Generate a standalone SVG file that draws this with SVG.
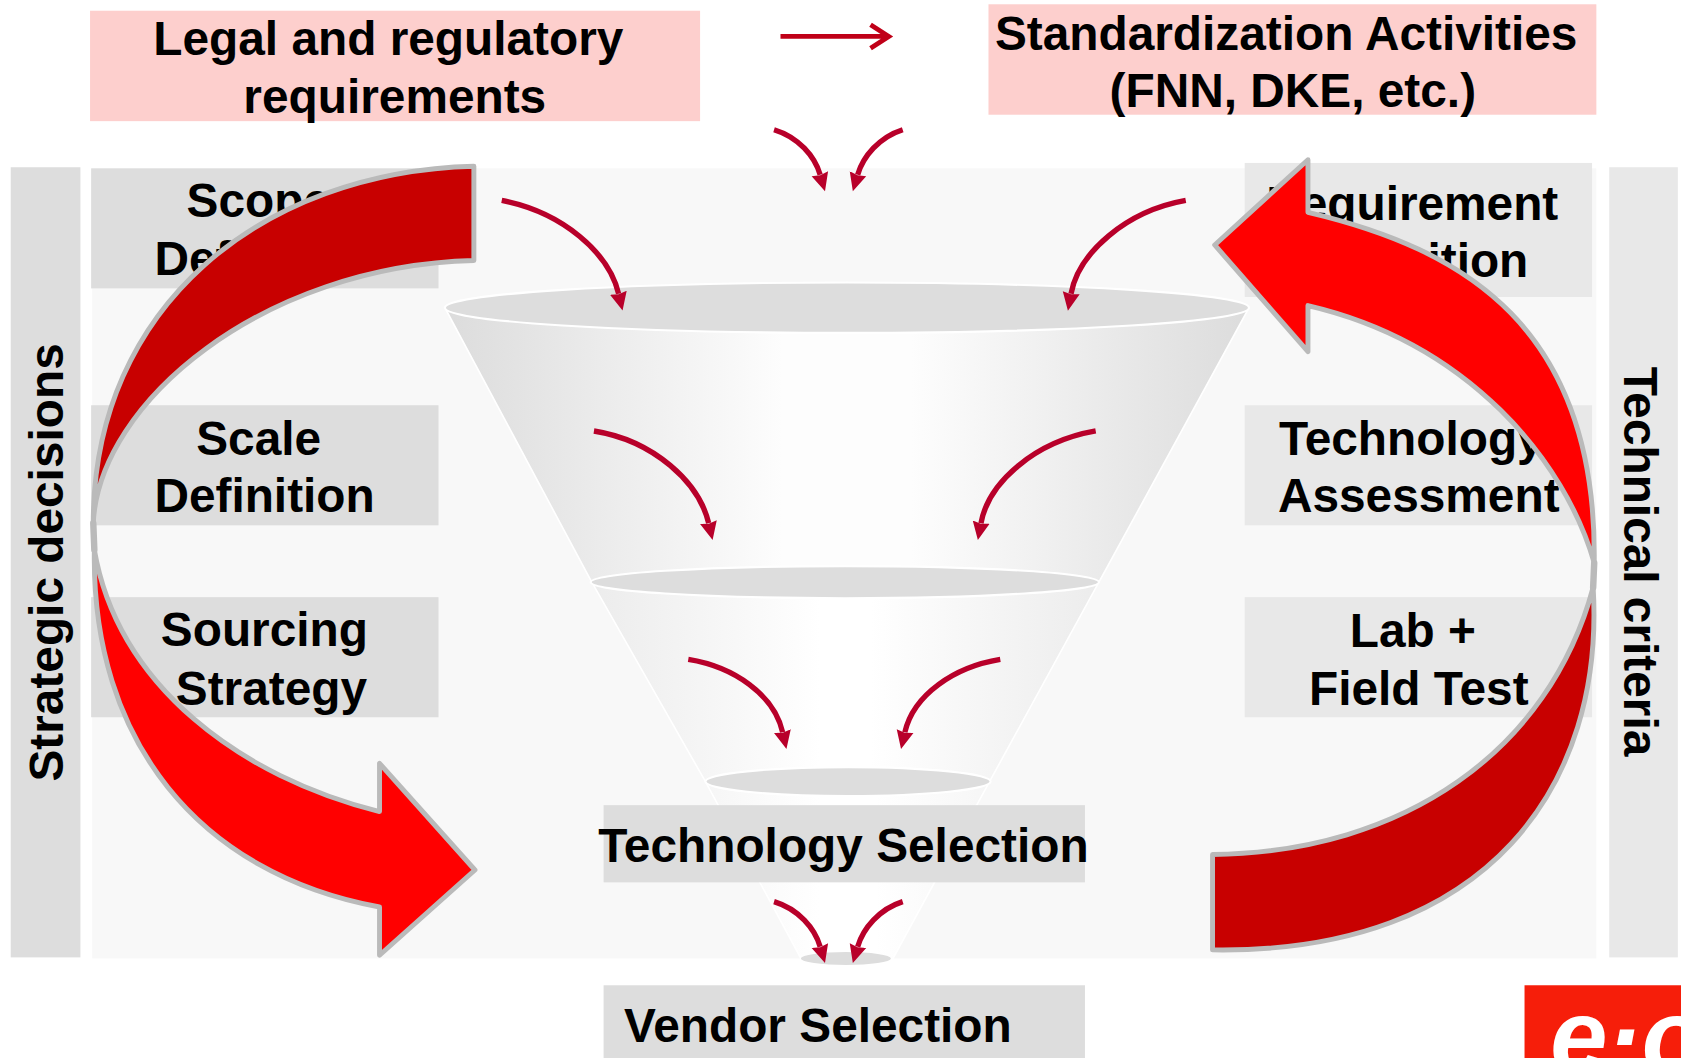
<svg xmlns="http://www.w3.org/2000/svg" width="1681" height="1058" viewBox="0 0 1681 1058">
<style>
text{font-family:"Liberation Sans",Arial,sans-serif;font-weight:700;font-size:44.6px;fill:#000}
.lg{fill:#ddd}.lr{fill:#e8e8e8}.pk{fill:#fdcfcd}
.el{fill:#ddd;stroke:#fff;stroke-width:2}
.c{fill:none;stroke:#b8002a;stroke-width:5;marker-end:url(#ah)}
.bd{stroke:#bababa;stroke-width:4.6;stroke-linejoin:round}
.dk{fill:#c80000}.br{fill:#f00}
.cone{stroke:#fff;stroke-width:1.5}
</style>
<defs>
<marker id="ah" markerUnits="userSpaceOnUse" markerWidth="20" markerHeight="20" refX="1" refY="9" orient="auto"><path d="M0 1L17 9L0 17L1.500 9Z" fill="#b8002a"/></marker>
<linearGradient id="g1"><stop offset="0" stop-color="#dcdcdc"/><stop offset=".42" stop-color="#fdfdfd"/><stop offset=".58" stop-color="#fdfdfd"/><stop offset="1" stop-color="#dcdcdc"/></linearGradient>
<linearGradient id="g2"><stop offset="0" stop-color="#ececec"/><stop offset=".45" stop-color="#fff"/><stop offset=".55" stop-color="#fff"/><stop offset="1" stop-color="#ececec"/></linearGradient>
<linearGradient id="g3"><stop offset="0" stop-color="#f6f6f6"/><stop offset=".4" stop-color="#fff"/><stop offset=".6" stop-color="#fff"/><stop offset="1" stop-color="#f6f6f6"/></linearGradient>
</defs>
<g transform="scale(1.0721)">
<rect x="86" y="157" width="1403" height="737" fill="#f8f8f8"/>
<g id="legal"><rect class="pk" x="84" y="10" width="569" height="103"/><text x="143" y="51.500">Legal and regulatory</text><text x="227" y="105.500">requirements</text></g>
<g id="standardization"><rect class="pk" x="922" y="4" width="567" height="103"/><text x="928" y="47">Standardization Activities</text><text x="1035" y="100">(FNN, DKE, etc.)</text></g>
<g id="strategic"><rect class="lg" x="10" y="156" width="65" height="737"/><text transform="translate(59,729) rotate(-90)">Strategic decisions</text></g>
<g id="technical"><rect class="lr" x="1501" y="156" width="64" height="737"/><text transform="translate(1515,342) rotate(90)">Technical criteria</text></g>
<g id="funnel">
<path class="cone" fill="url(#g1)" d="M415 287H1165L1025 543H552Z"/>
<path class="cone" fill="url(#g2)" d="M552 543H1025L923 729H658Z"/>
<path class="cone" fill="url(#g3)" d="M658 729H923L833 894H747Z"/>
<ellipse class="el" cx="790" cy="287" rx="375" ry="23.500"/>
<ellipse class="el" cx="788" cy="543" rx="237" ry="15"/>
<ellipse class="el" cx="791" cy="729" rx="133" ry="13.500"/>
<ellipse cx="789" cy="894" rx="42" ry="6" fill="#ddd"/>
</g>
<g id="scope"><rect class="lg" x="85" y="157" width="324" height="112"/><text x="174" y="202.500">Scope</text><text x="144" y="256.500">Definition</text></g>
<g id="scale"><rect class="lg" x="85" y="378" width="324" height="112"/><text x="183" y="424.500">Scale</text><text x="144" y="478">Definition</text></g>
<g id="sourcing"><rect class="lg" x="85" y="557" width="324" height="112"/><text x="150" y="603">Sourcing</text><text x="164" y="658">Strategy</text></g>
<g id="requirement"><rect class="lr" x="1161" y="152" width="324" height="125"/><text x="1181" y="205.500">Requirement</text><text x="1220" y="258.500">Definition</text></g>
<g id="assessment"><rect class="lr" x="1161" y="378" width="324" height="112"/><text x="1193" y="424.500">Technology</text><text x="1192" y="478">Assessment</text></g>
<g id="labtest"><rect class="lr" x="1161" y="557" width="324" height="112"/><text x="1259" y="603.500">Lab +</text><text x="1221" y="658">Field Test</text></g>
<g id="techselection"><rect class="lg" x="563" y="751" width="449" height="72"/><text x="558" y="804">Technology Selection</text></g>
<g id="vendorselection"><rect class="lg" x="563" y="919" width="449" height="70"/><text x="582" y="972">Vendor Selection</text></g>
<g id="logo"><rect x="1422" y="919" width="150" height="70" fill="#f61e0a"/><text x="1446" y="1000" style="font-size:96px;font-style:italic;fill:#fff">e·o</text></g>
<g id="bands">
<path d="M87 488L88 513M1487 525L1486 548" fill="none" stroke="#bababa" stroke-width="6" stroke-linecap="round"/>
<path class="bd br" d="M88 513C85 690 185 815 354 846V891L443 811.500L354 712V757C225 725 110 640 88 513Z"/>
<path class="bd dk" d="M442 155C245 160 87 285 87 488C92 375 245 248 442 243Z"/>
<path class="bd dk" d="M1486 548C1497 730 1390 890 1131 886V797C1310 795 1445 700 1486 548Z"/>
<path class="bd br" d="M1487 525C1490 305 1365 232 1220 198V149L1133 228.500L1220 328V285C1370 320 1460 430 1487 525Z"/>
</g>
<g id="connectors">
<path d="M728 34H828M812 23L829 34L812 45" fill="none" stroke="#c00018" stroke-width="4.500"/>
<path class="c" d="M722 121C745 128 760 146 765 163"/>
<path class="c" d="M842 121C820 128 805 146 800 163"/>
<path class="c" d="M468 187C525 198 568 236 577 274"/>
<path class="c" d="M1106 187C1050 197 1006 236 999 274"/>
<path class="c" d="M554 402C610 411 652 450 661 488"/>
<path class="c" d="M1022 402C965 412 922 450 915 488"/>
<path class="c" d="M642 615C685 622 722 648 730 683"/>
<path class="c" d="M933 615C890 622 852 648 844 683"/>
<path class="c" d="M722 841C745 848 760 866 765 883"/>
<path class="c" d="M842 841C820 848 805 866 800 883"/>
</g>
</g>
</svg>
